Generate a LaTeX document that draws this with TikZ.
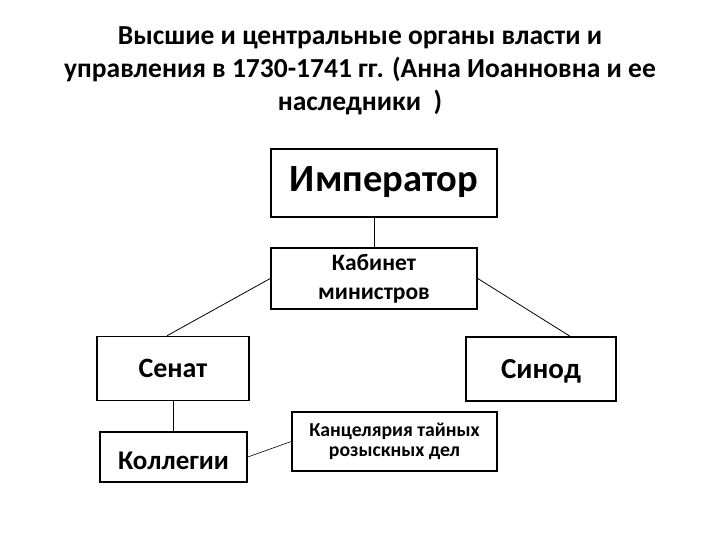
\documentclass[tikz,border=0pt]{standalone}
\usepackage{fontspec}
\setmainfont{Carlito}
\usepackage{tikz}

\begin{document}
\begin{tikzpicture}[x=1pt, y=-1pt,
  organ/.style={draw, line width=1.5pt, inner sep=0pt, font=\bfseries},
  link/.style={line width=0.8pt}]
\useasboundingbox (0,0) rectangle (720,540);
% title
\node[font=\bfseries\fontsize{27.5}{33}\selectfont, align=center] (title) at (360,71)
  {Высшие и центральные органы власти и\\
   управления в 1730-1741 гг. (Анна Иоанновна и ее\\
   наследники~~)};
% boxes
\node[organ, minimum width=226pt, minimum height=68pt, text height=18pt, text depth=0pt,
      font=\bfseries\fontsize{38.5}{44}\selectfont] (imp) at (384,183) {Император};
\node[organ, align=center, minimum width=206pt, minimum height=61pt,
      font=\bfseries\fontsize{23.5}{29}\selectfont] (kab) at (374,278.5) {Кабинет\\министров};
\node[organ, minimum width=152pt, minimum height=64pt, text height=17pt, text depth=0pt,
      font=\bfseries\fontsize{28}{32}\selectfont] (senat) at (173,368.5) {Сенат};
\node[organ, minimum width=150pt, minimum height=64pt, text height=18pt, text depth=0pt,
      font=\bfseries\fontsize{29}{32}\selectfont] (sinod) at (541,369) {Синод};
\node[organ, minimum width=147pt, minimum height=50pt, text height=24pt, text depth=0pt,
      font=\bfseries\fontsize{27}{30}\selectfont] (koll) at (173.5,457) {Коллегии};
\node[organ, align=center, minimum width=205pt, minimum height=59pt,
      font=\bfseries\fontsize{19.7}{20}\selectfont] (kanc) at (394.5,441.5) {Канцелярия тайных\\розыскных дел};
% connectors
\draw[link] (imp.south -| kab.north) -- (kab.north);
\draw[link] (kab.west) -- ([xshift=-6pt]senat.north);
\draw[link] (kab.east) -- ([xshift=29pt]sinod.north);
\draw[link] (senat.south) -- (senat.south |- koll.north);
\draw[line width=0.6pt] (koll.east) -- (kanc.west);
\end{tikzpicture}
\end{document}
